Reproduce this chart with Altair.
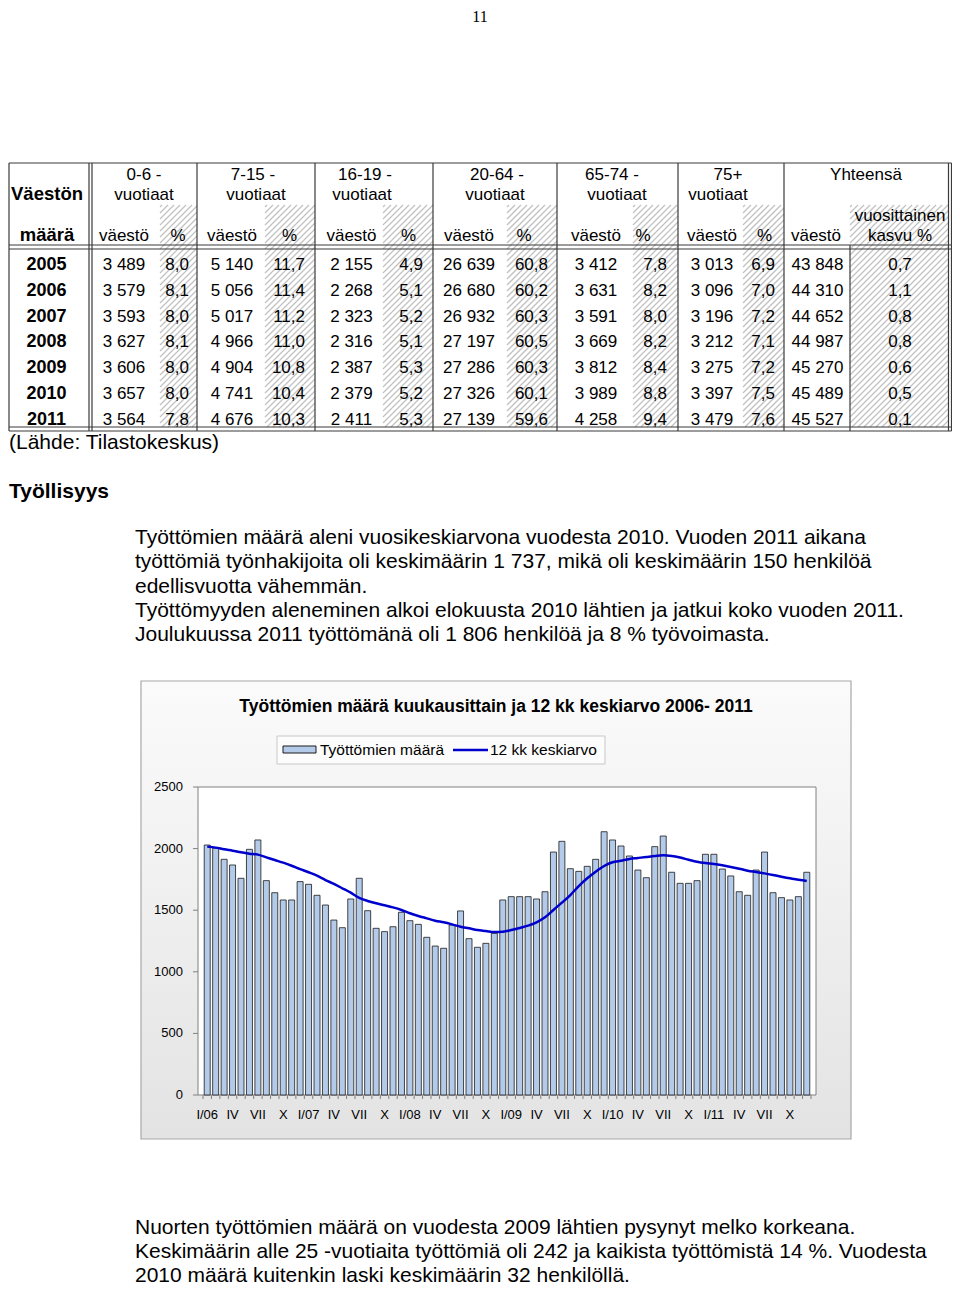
import altair as alt
import pandas as pd

# ---------------- data ----------------
years = [2005, 2006, 2007, 2008, 2009, 2010, 2011]
pop_0_6 = [3489, 3579, 3593, 3627, 3606, 3657, 3564]
pct_0_6 = [8.0, 8.1, 8.0, 8.1, 8.0, 8.0, 7.8]
pop_7_15 = [5140, 5056, 5017, 4966, 4904, 4741, 4676]
pct_7_15 = [11.7, 11.4, 11.2, 11.0, 10.8, 10.4, 10.3]
pop_16_19 = [2155, 2268, 2323, 2316, 2387, 2379, 2411]
pct_16_19 = [4.9, 5.1, 5.2, 5.1, 5.3, 5.2, 5.3]
pop_20_64 = [26639, 26680, 26932, 27197, 27286, 27326, 27139]
pct_20_64 = [60.8, 60.2, 60.3, 60.5, 60.3, 60.1, 59.6]
pop_65_74 = [3412, 3631, 3591, 3669, 3812, 3989, 4258]
pct_65_74 = [7.8, 8.2, 8.0, 8.2, 8.4, 8.8, 9.4]
pop_75 = [3013, 3096, 3196, 3212, 3275, 3397, 3479]
pct_75 = [6.9, 7.0, 7.2, 7.1, 7.2, 7.5, 7.6]
pop_total = [43848, 44310, 44652, 44987, 45270, 45489, 45527]
growth = [0.7, 1.1, 0.8, 0.8, 0.6, 0.5, 0.1]

unemployed = [2029, 2003, 1913, 1867, 1759, 1994, 2070, 1740, 1642, 1583, 1583, 1732,
              1710, 1621, 1542, 1420, 1358, 1591, 1759, 1496, 1353, 1326, 1366, 1483,
              1415, 1385, 1280, 1209, 1191, 1380, 1494, 1269, 1199, 1231, 1312, 1583,
              1610, 1610, 1610, 1591, 1650, 1972, 2059, 1837, 1815, 1856, 1913, 2137,
              2070, 2021, 1940, 1826, 1764, 2016, 2102, 1808, 1718, 1718, 1740, 1954,
              1954, 1834, 1778, 1650, 1621, 1826, 1972, 1642, 1602, 1583, 1610, 1808]
avg12 = [2016, 2008, 1994, 1983, 1970, 1959, 1951, 1929, 1907, 1886, 1861, 1834,
         1808, 1780, 1745, 1713, 1678, 1642, 1600, 1575, 1556, 1540, 1523, 1502,
         1475, 1453, 1434, 1415, 1402, 1385, 1366, 1353, 1339, 1331, 1323, 1326,
         1339, 1356, 1375, 1402, 1442, 1502, 1561, 1623, 1696, 1759, 1813, 1859,
         1889, 1902, 1916, 1924, 1932, 1940, 1946, 1940, 1927, 1910, 1894, 1883,
         1875, 1864, 1851, 1837, 1821, 1810, 1799, 1786, 1772, 1759, 1748, 1737]
month_ticks = ["I/06", "IV", "VII", "X", "I/07", "IV", "VII", "X", "I/08", "IV", "VII", "X",
               "I/09", "IV", "VII", "X", "I/10", "IV", "VII", "X", "I/11", "IV", "VII", "X"]
y_ticks = [0, 500, 1000, 1500, 2000, 2500]

# ---------------- helpers ----------------
OFF = 8
FONT = "Liberation Sans"


def fint(v):
    return f"{v:,}".replace(",", " ")


def fdec(v):
    return f"{v:.1f}".replace(".", ",")


def T(rows, size, weight="normal", align="left", font=FONT, color="#000000"):
    df = pd.DataFrame([{"x": x - OFF, "y": y - OFF, "t": t} for x, y, t in rows])
    return alt.Chart(df).mark_text(align=align, baseline="middle", fontSize=size,
                                   fontWeight=weight, font=font, color=color).encode(
        x=alt.X("x:Q", scale=None, axis=None),
        y=alt.Y("y:Q", scale=None, axis=None),
        text="t:N")


def R(segs, color, width):
    df = pd.DataFrame([{"x": a - OFF, "y": b - OFF, "x2": c - OFF, "y2": d - OFF}
                       for a, b, c, d in segs])
    return alt.Chart(df).mark_rule(color=color, strokeWidth=width).encode(
        x=alt.X("x:Q", scale=None, axis=None),
        y=alt.Y("y:Q", scale=None, axis=None),
        x2="x2:Q", y2="y2:Q")


def BOX(x0, y0, x1, y1, **kw):
    df = pd.DataFrame([{"x": x0 - OFF, "y": y0 - OFF, "x2": x1 - OFF, "y2": y1 - OFF}])
    return alt.Chart(df).mark_rect(**kw).encode(
        x=alt.X("x:Q", scale=None, axis=None),
        y=alt.Y("y:Q", scale=None, axis=None),
        x2="x2:Q", y2="y2:Q")


page_layers = []

# page number
page_layers.append(T([(480, 17, "11")], 16, align="center", font="Liberation Serif"))

# ---------------- table ----------------
TOP, HDR1, HDR2, BOT1, BOT2 = 163, 245, 249, 427, 431
LEFT, RIGHT1, RIGHT2 = 9, 948.5, 951.5
vlines = [197, 315, 433, 557, 678, 784]

# hatching for % columns
hatch_rects = [(160, 197), (265, 315), (383, 433), (507, 557), (633, 678), (743, 784), (850, RIGHT1)]
hatch = []
step = 6
for x0, x1 in hatch_rects:
    y0, y1 = 205, BOT1
    k = x0 + y0 + 2
    while k < x1 + y1:
        xa = max(x0, k - y1)
        xb = min(x1, k - y0)
        if xb > xa:
            hatch.append((xa, k - xa, xb, k - xb))
        k += step
page_layers.append(R(hatch, "#c2c2c2", 1.3))

grid = [(LEFT, TOP, RIGHT2, TOP), (LEFT, HDR1, RIGHT2, HDR1), (LEFT, HDR2, RIGHT2, HDR2),
        (LEFT, BOT1, RIGHT2, BOT1), (LEFT, BOT2, RIGHT2, BOT2),
        (LEFT, TOP, LEFT, BOT2), (89, TOP, 89, BOT2), (92, TOP, 92, BOT2),
        (RIGHT1, TOP, RIGHT1, BOT2), (RIGHT2, TOP, RIGHT2, BOT2),
        (850, HDR1, 850, BOT2)]
grid += [(v, TOP, v, BOT2) for v in vlines]
page_layers.append(R(grid, "#3a3a3a", 1.2))

# header texts
groups = [
    ("0-6 -", 144, 144, 124, 178, 189, pop_0_6, pct_0_6),
    ("7-15 -", 253, 256, 232, 289.5, 305, pop_7_15, pct_7_15),
    ("16-19 -", 365, 362, 351.5, 408.5, 423, pop_16_19, pct_16_19),
    ("20-64 -", 497, 495, 469, 524, 548, pop_20_64, pct_20_64),
    ("65-74 -", 612, 617, 596, 643, 667, pop_65_74, pct_65_74),
    ("75+", 728, 718, 712, 764.5, 775, pop_75, pct_75),
]
hdr = []
sub = []
cells_c = []
cells_r = []
row_y = [265 + i * 25.8 for i in range(len(years))]
for name, c1, c2, cv, cp, rp, pops, pcts in groups:
    hdr += [(c1, 175, name), (c2, 195, "vuotiaat")]
    sub += [(cv, 236, "väestö"), (cp, 236, "%")]
    for yy, pv, pc in zip(row_y, pops, pcts):
        cells_c.append((cv, yy, fint(pv)))
        cells_r.append((rp, yy, fdec(pc)))
hdr += [(866, 175, "Yhteensä")]
sub += [(816, 236, "väestö"), (900, 216, "vuosittainen"), (900, 236, "kasvu %")]
for yy, pv, g in zip(row_y, pop_total, growth):
    cells_c.append((817.5, yy, fint(pv)))
    cells_c.append((900, yy, fdec(g)))

page_layers.append(T(hdr + sub, 17, align="center"))
page_layers.append(T(cells_c, 17, align="center"))
page_layers.append(T(cells_r, 17, align="right"))
page_layers.append(T([(47, 194, "Väestön"), (47, 235, "määrä")], 18.5, weight="bold", align="center"))
page_layers.append(T([(46.5, yy, str(y)) for yy, y in zip(row_y, years)], 18, weight="bold", align="center"))

page_layers.append(T([(9, 443, "(Lähde: Tilastokeskus)")], 21))
page_layers.append(T([(9, 492, "Työllisyys")], 21, weight="bold"))

para1 = ["Työttömien määrä aleni vuosikeskiarvona vuodesta 2010. Vuoden 2011 aikana",
         "työttömiä työnhakijoita oli keskimäärin 1 737, mikä oli keskimäärin 150 henkilöä",
         "edellisvuotta vähemmän.",
         "Työttömyyden aleneminen alkoi elokuusta 2010 lähtien ja jatkui koko vuoden 2011.",
         "Joulukuussa 2011 työttömänä oli 1 806 henkilöä ja 8 % työvoimasta."]
page_layers.append(T([(135, 538 + i * 24.3, s) for i, s in enumerate(para1)], 21))
para2 = ["Nuorten työttömien määrä on vuodesta 2009 lähtien pysynyt melko korkeana.",
         "Keskimäärin alle 25 -vuotiaita työttömiä oli 242 ja kaikista työttömistä 14 %. Vuodesta",
         "2010 määrä kuitenkin laski keskimäärin 32 henkilöllä."]
page_layers.append(T([(135, 1228 + i * 24.2, s) for i, s in enumerate(para2)], 21))

# ---------------- chart frame ----------------
frame_layers = []
grad = alt.LinearGradient(gradient="linear",
                          stops=[alt.GradientStop(color="#fbfbfb", offset=0),
                                 alt.GradientStop(color="#e3e3e3", offset=1)],
                          x1=0, x2=0, y1=0, y2=1)
frame_layers.append(BOX(141, 681, 851, 1139, fill=grad, stroke="#a8a8a8", strokeWidth=1.2))
frame_layers.append(BOX(198, 787, 816, 1095, fill="#ffffff", stroke="#808080", strokeWidth=1))
frame_layers.append(T([(496, 707, "Työttömien määrä kuukausittain ja 12 kk keskiarvo 2006- 2011")],
                      17.5, weight="bold", align="center"))
# legend
frame_layers.append(BOX(277, 736, 605, 764, fill="#fcfcfc", stroke="#c8c8c8", strokeWidth=1))
frame_layers.append(BOX(283, 746, 316, 753, fill="#b3cbe9", stroke="#1a1a1a", strokeWidth=1))
frame_layers.append(R([(453, 750, 488, 750)], "#0000cc", 2.5))
frame_layers.append(T([(320, 750, "Työttömien määrä"), (490, 750, "12 kk keskiarvo")], 15.5))

# ---------------- bar + line chart (own scales) ----------------
n = len(unemployed)
mdf = pd.DataFrame({"i": list(range(1, n + 1)), "n": unemployed, "avg": avg12})
xs = alt.Scale(domain=[0.5, n + 0.5], range=[198 - OFF, 816 - OFF], nice=False, zero=False)
ys = alt.Scale(domain=[0, 2500], range=[1095 - OFF, 787 - OFF], nice=False, zero=False)

bars = alt.Chart(mdf).mark_bar(size=6, fill="#b3cbe9", stroke="#1a1a1a", strokeWidth=0.8).encode(
    x=alt.X("i:Q", scale=xs, axis=None),
    y=alt.Y("n:Q", scale=ys, axis=None, stack=None))
line = alt.Chart(mdf).mark_line(color="#0000cc", strokeWidth=2.5, interpolate="monotone").encode(
    x=alt.X("i:Q", scale=xs, axis=None),
    y=alt.Y("avg:Q", scale=ys, axis=None))

tdf = pd.DataFrame({"i": [1 + 3 * k for k in range(len(month_ticks))], "lab": month_ticks})
xlab = alt.Chart(tdf).mark_text(fontSize=13, font=FONT, baseline="middle", align="center",
                                color="#000000").encode(
    x=alt.X("i:Q", scale=xs, axis=None), y=alt.value(1115 - OFF), text="lab:N")

bdf = pd.DataFrame({"b": [k + 0.5 for k in range(n + 1)]})
xtick = alt.Chart(bdf).mark_rule(color="#808080", strokeWidth=1).encode(
    x=alt.X("b:Q", scale=xs, axis=None), y=alt.value(1095 - OFF), y2=alt.value(1099 - OFF))

ydf = pd.DataFrame({"v": y_ticks, "lab": [str(v) for v in y_ticks]})
ylab = alt.Chart(ydf).mark_text(fontSize=13, font=FONT, baseline="middle", align="right",
                                color="#000000").encode(
    y=alt.Y("v:Q", scale=ys, axis=None), x=alt.value(183 - OFF), text="lab:N")
ytick = alt.Chart(ydf).mark_rule(color="#808080", strokeWidth=1).encode(
    y=alt.Y("v:Q", scale=ys, axis=None), x=alt.value(193 - OFF), x2=alt.value(198 - OFF))

inner = alt.layer(bars, line, xtick, xlab, ytick, ylab)

chart = alt.layer(*frame_layers, *page_layers, inner).resolve_scale(
    x="independent", y="independent"
).properties(
    width=944, height=1280, padding=0,
    autosize=alt.AutoSizeParams(type="none"),
    background="#ffffff",
).configure_view(stroke=None)

chart.save("out.html", embed_options={"renderer": "svg", "actions": False})
